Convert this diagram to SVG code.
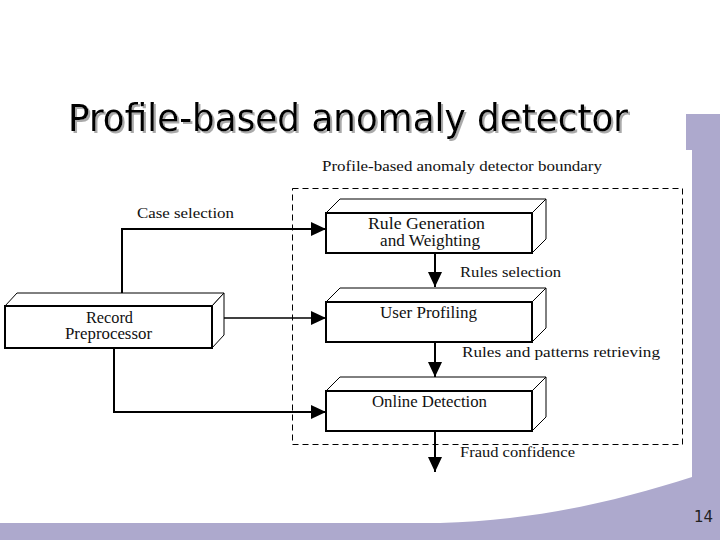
<svg xmlns="http://www.w3.org/2000/svg" width="720" height="540" viewBox="0 0 720 540">
<defs>
<style>
.lbl{font-family:"Liberation Serif","Times New Roman",serif;font-size:15px;fill:#111}
.nl{font-family:"Liberation Serif","Times New Roman",serif;font-size:16px;fill:#111}
.box{fill:#fff;stroke:#000;stroke-width:2}
.side{fill:#fff;stroke:#000;stroke-width:1}
.ln{fill:none;stroke:#000;stroke-width:2}
.thin{fill:none;stroke:#000;stroke-width:1.3}
</style>
<filter id="sh" x="-5%" y="-20%" width="110%" height="150%">
<feOffset in="SourceAlpha" dx="2" dy="2" result="o"/>
<feFlood flood-color="#aaa"/>
<feComposite in2="o" operator="in" result="s"/>
<feMerge><feMergeNode in="s"/><feMergeNode in="SourceGraphic"/></feMerge>
</filter>
<marker id="ah" markerWidth="16" markerHeight="14" refX="15" refY="7" orient="auto" markerUnits="userSpaceOnUse">
<path d="M0,0 L15,7 L0,14 Z" fill="#000"/>
</marker>
</defs>
<rect width="720" height="540" fill="#fff"/>
<path d="M686,114 H720 V540 H0 V523 H440 C540,520 620,500 692,477 V150 H686 Z" fill="#ADA9CD"/>
<g id="title">
<text x="68" y="131" font-family="'DejaVu Sans',Verdana,sans-serif" font-size="37" fill="#000" textLength="560" lengthAdjust="spacingAndGlyphs" filter="url(#sh)">Profile-based anomaly detector</text>
</g>
<text x="713" y="522" text-anchor="end" font-family="'DejaVu Sans',Verdana,sans-serif" font-size="15" fill="#222">14</text>
<g id="boundary">
<rect x="292.5" y="188.5" width="390" height="256" fill="none" stroke="#000" stroke-width="1" stroke-dasharray="6,4"/>
<text class="lbl" x="322" y="171" textLength="280" lengthAdjust="spacingAndGlyphs">Profile-based anomaly detector boundary</text>
</g>
<g id="rule-generation">
<path class="side" d="M326,213 L340,199 H546 L532,213 Z"/>
<path class="side" d="M532,213 L546,199 V239 L532,253 Z"/>
<rect class="box" x="326" y="213" width="206" height="40"/>
<text class="nl" x="368" y="229" textLength="117" lengthAdjust="spacingAndGlyphs">Rule Generation</text>
<text class="nl" x="380" y="246" textLength="100" lengthAdjust="spacingAndGlyphs">and Weighting</text>
</g>
<g id="user-profiling">
<path class="side" d="M326,302 L340,288 H546 L532,302 Z"/>
<path class="side" d="M532,302 L546,288 V328 L532,342 Z"/>
<rect class="box" x="326" y="302" width="206" height="40"/>
<text class="nl" x="380" y="318" textLength="97" lengthAdjust="spacingAndGlyphs">User Profiling</text>
</g>
<g id="online-detection">
<path class="side" d="M326,391 L340,377 H546 L532,391 Z"/>
<path class="side" d="M532,391 L546,377 V417 L532,431 Z"/>
<rect class="box" x="326" y="391" width="206" height="40"/>
<text class="nl" x="372" y="407" textLength="115" lengthAdjust="spacingAndGlyphs">Online Detection</text>
</g>
<g id="record-preprocessor">
<path class="side" d="M5,306 L17,293 H224 L212,306 Z"/>
<path class="side" d="M212,306 L224,293 V335 L212,348 Z"/>
<rect class="box" x="5" y="306" width="207" height="42"/>
<text class="nl" x="86" y="323" textLength="47" lengthAdjust="spacingAndGlyphs">Record</text>
<text class="nl" x="65" y="339" textLength="87" lengthAdjust="spacingAndGlyphs">Preprocessor</text>
</g>
<g id="connectors">
<path class="ln" d="M122,293 V229 H326" marker-end="url(#ah)"/>
<path class="thin" d="M224,318 H326" marker-end="url(#ah)"/>
<path class="ln" d="M114,348 V412 H326" marker-end="url(#ah)"/>
<path class="ln" d="M435,253 V287" marker-end="url(#ah)"/>
<path class="ln" d="M435,342 V377" marker-end="url(#ah)"/>
<path class="ln" d="M435,431 V472" marker-end="url(#ah)"/>
<text class="lbl" x="137" y="218" textLength="97" lengthAdjust="spacingAndGlyphs">Case selection</text>
<text class="lbl" x="460" y="277" textLength="101" lengthAdjust="spacingAndGlyphs">Rules selection</text>
<text class="lbl" x="462" y="357" textLength="198" lengthAdjust="spacingAndGlyphs">Rules and patterns retrieving</text>
<text class="lbl" x="460" y="457" textLength="115" lengthAdjust="spacingAndGlyphs">Fraud confidence</text>
</g>
</svg>
